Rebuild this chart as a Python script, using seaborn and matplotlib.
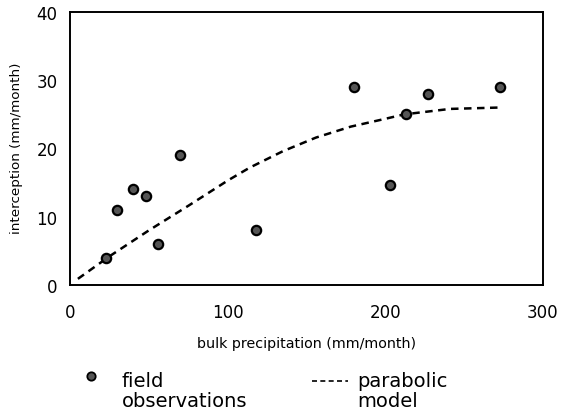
import matplotlib
matplotlib.use("Agg")
import matplotlib.pyplot as plt
from matplotlib.lines import Line2D
import seaborn as sns
import pandas as pd

# Field observations
obs_x = [23, 30, 40, 48, 55.5, 70, 118, 180, 203, 213, 227, 273]
obs_y = [4, 11, 14, 13, 6, 19, 8, 29, 14.6, 25, 28, 29]

# Parabolic model
model_x = [5, 25, 50, 75, 100, 114, 135, 156, 178, 199, 212, 241, 272]
model_y = [0.9, 4.2, 8.0, 11.6, 15.3, 17.2, 19.6, 21.6, 23.2, 24.3, 25.0, 25.8, 26.0]

x_ticks = [0, 100, 200, 300]
y_ticks = [0, 10, 20, 30, 40]

sns.set_theme(style="white")
plt.rcParams['font.family'] = ['DejaVu Sans']
plt.rcParams['text.color'] = 'black'

fig = plt.figure(figsize=(5.61, 4.14), dpi=100)
ax = fig.add_axes([70/561, 1-286/414, (543-70)/561, (286-13)/414])

obs = pd.DataFrame({"x": obs_x, "y": obs_y})
model = pd.DataFrame({"x": model_x, "y": model_y})

sns.lineplot(data=model, x="x", y="y", ax=ax, color="black", linewidth=1.8,
             linestyle=(0, (3, 2.2)), sort=False)
sns.scatterplot(data=obs, x="x", y="y", ax=ax, s=45, color="#555555",
                edgecolor="black", linewidth=1.6, zorder=3)

ax.set_xlim(0, 300)
ax.set_ylim(0, 40)
ax.set_xticks(x_ticks)
ax.set_yticks(y_ticks)
ax.set_xticklabels([str(t) for t in x_ticks])
ax.set_yticklabels([str(t) for t in y_ticks])
ax.tick_params(axis="x", direction="in", length=3, pad=13, labelsize=12, colors="black")
ax.tick_params(axis="y", direction="out", length=3, pad=6, labelsize=12, colors="black")
for s in ax.spines.values():
    s.set_visible(True)
    s.set_color("black")
    s.set_linewidth(1.4)

ax.set_xlabel("")
ax.set_ylabel("")
fig.text(307/561, 1-344/414, "bulk precipitation (mm/month)", ha="center", va="center",
         fontsize=10.3, color="black")
fig.text(17/561, 1-148/414, "interception (mm/month)", ha="center", va="center",
         fontsize=9.7, rotation=90, color="black")

# Legend
fig.add_artist(Line2D([91/561], [1-377/414], marker="o", markersize=6, color="#555555",
                      markeredgecolor="black", markeredgewidth=1.3, linestyle="none",
                      transform=fig.transFigure))
fig.text(122/561, 1-382/414, "field", ha="left", va="center", fontsize=14, color="black")
fig.text(122/561, 1-402/414, "observations", ha="left", va="center", fontsize=14, color="black")
fig.add_artist(Line2D([312/561, 348/561], [1-382/414, 1-382/414], color="black",
                      linewidth=1.2, linestyle=(0, (3, 2)), transform=fig.transFigure))
fig.text(357/561, 1-382/414, "parabolic", ha="left", va="center", fontsize=14, color="black")
fig.text(357/561, 1-402/414, "model", ha="left", va="center", fontsize=14, color="black")

fig.savefig("out.png", dpi=100)
